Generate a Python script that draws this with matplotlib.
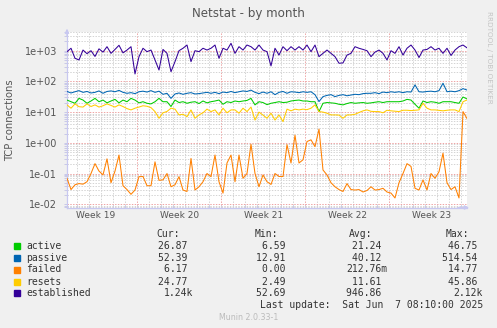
import numpy as np
import matplotlib
matplotlib.use("Agg")
import matplotlib.pyplot as plt
from matplotlib.ticker import FixedLocator, NullFormatter

W, H = 497, 328

# Netstat counters, one sample every 8 hours across the month window
active = [24.7, 21.8, 19.4, 28, 24.7, 19.4, 23, 28, 21.8, 24.7,
          20, 23, 26, 20, 24.7, 21.8, 28, 24.7, 20, 21.8,
          19.4, 18.5, 21.8, 28, 21.8, 21.8, 15.2, 24.7, 20.5, 21.8,
          19.4, 21, 21.8, 19, 23, 20, 21.8, 23, 24.7, 18,
          21.8, 20.5, 23, 21.8, 23, 24, 28, 17.2, 21.8, 20.5,
          17.5, 19.4, 20.5, 21.8, 20.5, 21, 23, 24, 24.7, 23,
          23, 21.8, 21.8, 10.4, 19.4, 20.5, 20, 19.4, 18, 17.2,
          19, 20.5, 19.4, 20, 20.5, 19.4, 20, 21, 21.8, 20.5,
          21.8, 21.8, 21.8, 21.8, 23, 26, 24.7, 18, 13.4, 23,
          20.5, 21.8, 21, 19.4, 21.8, 21.8, 21.8, 20.5, 19.4, 31,
          26.87]
passive = [47, 42, 46, 50, 44, 47, 42, 44, 49, 41,
           47, 49, 46, 51, 44, 41, 43, 40, 46, 48,
           45, 50, 44, 48, 38, 41, 28, 39, 42, 38,
           41, 43, 39, 40, 42, 44, 41, 44, 40, 45,
           43, 47, 43, 46, 49, 47, 52, 44, 40, 45,
           41, 46, 37, 44, 47, 41, 46, 45, 43, 46,
           44, 46, 37, 22, 32, 35, 37, 32, 35, 37,
           34, 36, 38, 37, 40, 41, 41, 43, 40, 45,
           43, 46, 44, 46, 43, 46, 45, 77, 46, 45,
           47, 48, 46, 50, 87, 46, 48, 46, 50, 58,
           52.39]
failed = [0.07, 0.03, 0.043, 0.047, 0.045, 0.054, 0.10, 0.21, 0.12, 0.09,
          0.30, 0.05, 0.12, 0.40, 0.04, 0.03, 0.021, 0.029, 0.079, 0.08,
          0.04, 0.04, 0.24, 0.06, 0.062, 0.10, 0.037, 0.043, 0.079, 0.029,
          0.026, 0.31, 0.029, 0.037, 0.054, 0.10, 0.079, 0.40, 0.054, 0.023,
          0.22, 0.40, 0.054, 0.40, 0.07, 0.10, 0.90, 0.10, 0.037, 0.09,
          0.054, 0.044, 0.10, 0.08, 0.08, 0.87, 0.22, 1.77, 0.22, 0.28,
          1.10, 1.25, 0.75, 2.80, 0.13, 0.09, 0.05, 0.037, 0.03, 0.026,
          0.047, 0.03, 0.029, 0.03, 0.025, 0.028, 0.037, 0.029, 0.03, 0.033,
          0.025, 0.023, 0.016, 0.05, 0.10, 0.21, 0.17, 0.033, 0.029, 0.062,
          0.029, 0.10, 0.07, 0.114, 0.46, 0.05, 0.03, 0.037, 0.016, 10.4,
          6.17]
resets = [17.2, 13.4, 18.5, 15, 14.6, 18.5, 15.2, 17.2, 14.6, 16.1,
          18.5, 16.5, 14.6, 17.2, 15.2, 13, 11.8, 13.4, 14.6, 16.1,
          15.5, 14, 10.4, 6.3, 9.5, 10.5, 13.4, 12.5, 8.1, 8.5,
          7.1, 11.8, 6.3, 8.1, 9.5, 12.5, 10.4, 11.8, 8.1, 13.4,
          9.5, 11.8, 11.8, 9.2, 13.4, 10.4, 14.6, 5.5, 10, 8,
          6.3, 9.2, 5.5, 8.1, 4.9, 12.5, 11, 12.5, 11.8, 12.5,
          12, 13.4, 17.2, 10.4, 10, 9.2, 8.1, 8.1, 8, 6.3,
          8.1, 8.1, 8.5, 9.7, 11, 11.8, 10.6, 10.4, 10.4, 9.5,
          11.5, 11, 10.7, 10.4, 11.5, 11.5, 11.2, 11.5, 11.8, 19.4,
          13.4, 11.8, 11.8, 11.4, 11, 11.5, 11.8, 11.8, 10.4, 21.8,
          24.77]
established = [930, 1200, 565, 500, 1050, 800, 1000, 650, 1150, 900,
               1350, 820, 1100, 1500, 850, 1050, 1350, 175, 640, 1200,
               930, 1050, 500, 235, 1100, 820, 207, 440, 1000, 1200,
               1530, 440, 1000, 930, 1200, 1050, 1200, 1530, 565, 1200,
               1050, 1740, 820, 1350, 1050, 1530, 1350, 1050, 1530, 1050,
               930, 320, 1200, 720, 1350, 1000, 1350, 1050, 1350, 1050,
               1530, 930, 1530, 640, 820, 1050, 820, 640, 390, 400,
               720, 820, 1350, 1200, 1100, 1000, 640, 900, 1050, 820,
               500, 1000, 820, 1350, 720, 1200, 1530, 1050, 600, 1050,
               1100, 1350, 1050, 1200, 820, 1200, 700, 1050, 1350, 1530,
               1240]

labels = ["active", "passive", "failed", "resets", "established"]
colors = ["#00CC00", "#0066B3", "#FF8000", "#FFCC00", "#330099"]
cur_vals = ["26.87 ", "52.39 ", "6.17 ", "24.77 ", "1.24k"]
min_vals = ["6.59 ", "12.91 ", "0.00 ", "2.49 ", "52.69 "]
avg_vals = ["21.24 ", "40.12 ", "212.76m", "11.61 ", "946.86 "]
max_vals = ["46.75 ", "514.54 ", "14.77 ", "45.86 ", "2.12k"]
week_labels = ["Week 19", "Week 20", "Week 21", "Week 22", "Week 23"]

t = np.arange(len(active)) / 3.0          # days since window start
span = 400 * 7200 / 86400.0               # 400 px at 2 h per px
first_week = 5.86                         # first Monday inside the window

fig = plt.figure(figsize=(W / 100, H / 100), dpi=100, facecolor="#F0F0F0")
ax = fig.add_axes([67 / W, 1 - 207.5 / H, 400 / W, 175.5 / H])
ax.set_facecolor("white")

for vals, c in zip([active, passive, failed, resets, established], colors):
    ax.plot(t, vals, color=c, lw=0.75, zorder=3)

ax.set_yscale("log")
ax.set_ylim(10 ** -2.107, 10 ** 3.609)
ax.set_xlim(0, span)

decades = [1e-2, 1e-1, 1e0, 1e1, 1e2, 1e3]
minors = [m * d for d in [1e-3] + decades for m in range(2, 10)]
ax.yaxis.set_major_locator(FixedLocator(decades))
ax.yaxis.set_minor_locator(FixedLocator(minors))
ax.set_yticklabels([format(d, ".0e") for d in decades])
ax.yaxis.set_minor_formatter(NullFormatter())

weeks = first_week + 7 * np.arange(4)
days = np.arange(first_week - 5, span, 1.0)
ax.xaxis.set_major_locator(FixedLocator(weeks))
ax.xaxis.set_minor_locator(FixedLocator(days))
ax.xaxis.set_major_formatter(NullFormatter())

dots = (0, (1.4, 1.4))
ax.grid(True, which="minor", color="#D4D4D4", lw=0.72, ls=dots, zorder=1)
ax.grid(True, which="major", color="#EFA5A5", lw=0.72, ls=dots, zorder=2)

ax.tick_params(which="both", length=2, width=0.7, color="#C8C8E8",
               labelsize=7, labelcolor="#555555", pad=5)
ax.tick_params(axis="x", which="both", direction="in")
for side in ["top", "right"]:
    ax.spines[side].set_visible(False)
for side in ["left", "bottom"]:
    ax.spines[side].set_color("#C8C8F0")
    ax.spines[side].set_linewidth(0.9)

# axis arrows
ax.annotate("", xy=(0, 1.035), xytext=(0, 0.96), xycoords="axes fraction",
            arrowprops=dict(arrowstyle="-|>", color="#C8C8F0", lw=0.9,
                            mutation_scale=6), annotation_clip=False)
ax.annotate("", xy=(1.012, 0), xytext=(0.97, 0), xycoords="axes fraction",
            arrowprops=dict(arrowstyle="-|>", color="#C8C8F0", lw=0.9,
                            mutation_scale=6), annotation_clip=False)

xt = ax.get_xaxis_transform()
for k, wl in enumerate(week_labels):
    ax.text(first_week - 3.5 + 7 * k, -0.045, wl, transform=xt, ha="center",
            va="center", fontsize=6.5, color="#555555")


def px(x, y):
    return x / W, 1 - y / H


fig.text(*px(248.5, 14), "Netstat - by month", ha="center", va="center",
         fontsize=8.6, color="#555555")
fig.text(*px(10.5, 120), "TCP connections", ha="center", va="center",
         rotation=90, fontsize=7.2, color="#555555")
fig.text(*px(488.5, 57), "RRDTOOL / TOBI OETIKER", ha="center", va="center",
         rotation=270, fontsize=5.2, color="#C4C4C4")

mono = dict(family="DejaVu Sans Mono", fontsize=7, color="#333333",
            va="center")
row_y = [245.7, 257.7, 269.5, 281.7, 293.4]
for hx, head in zip([180, 277.7, 372.7, 469.3], ["Cur:", "Min:", "Avg:", "Max:"]):
    fig.text(*px(hx, 234), head, ha="right", **mono)
for i, name in enumerate(labels):
    y = row_y[i]
    fig.patches.append(plt.Rectangle(px(14, y + 3), 6 / W, 6 / H,
                                     transform=fig.transFigure,
                                     color=colors[i]))
    fig.text(*px(26.5, y), name, ha="left", **mono)
    for rx, col in zip([193.5, 291, 387, 483],
                       [cur_vals, min_vals, avg_vals, max_vals]):
        fig.text(*px(rx, y), col[i], ha="right", **mono)
fig.text(*px(483, 305.5), "Last update:  Sat Jun  7 08:10:00 2025",
         ha="right", **mono)
fig.text(*px(248.5, 317.7), "Munin 2.0.33-1", ha="center", va="center",
         fontsize=5.7, color="#BBBBBB")

fig.savefig("out.png", dpi=100, facecolor=fig.get_facecolor())
